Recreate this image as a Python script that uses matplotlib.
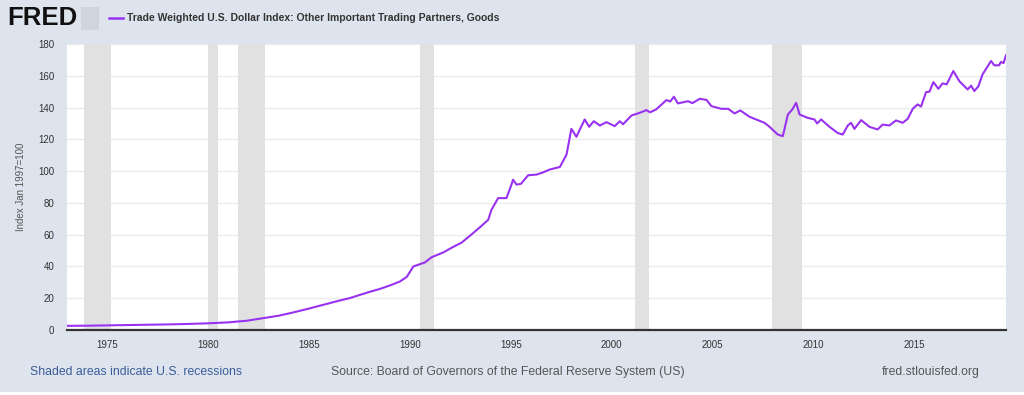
import matplotlib.pyplot as plt
from matplotlib.patches import Rectangle

# decimal year / index value
dates = [1973.0, 1974.0, 1975.0, 1976.0, 1977.0, 1978.0, 1979.0, 1980.0, 1981.0, 1981.9,
         1982.6, 1983.5, 1984.2, 1985.0, 1985.9, 1986.5, 1987.0, 1987.5, 1988.0, 1988.5,
         1989.0, 1989.5, 1989.84, 1990.17, 1990.74, 1991.07, 1991.65, 1992.1, 1992.56, 1993.13,
         1993.5, 1993.88, 1994.04, 1994.37, 1994.78, 1995.0, 1995.11, 1995.28, 1995.5, 1995.86,
         1996.27, 1996.6, 1996.93, 1997.43, 1997.76, 1998.0, 1998.25, 1998.42, 1998.66, 1998.88,
         1999.11, 1999.41, 1999.74, 2000.15, 2000.4, 2000.56, 2000.98, 2001.39, 2001.72, 2001.9,
         2002.2, 2002.71, 2002.9, 2003.08, 2003.28, 2003.78, 2004.0, 2004.36, 2004.7, 2004.94,
         2005.43, 2005.77, 2006.09, 2006.37, 2006.83, 2007.16, 2007.57, 2007.82, 2008.23, 2008.48,
         2008.73, 2008.95, 2009.14, 2009.31, 2009.72, 2010.05, 2010.18, 2010.38, 2010.79, 2011.2,
         2011.45, 2011.7, 2011.86, 2012.03, 2012.36, 2012.77, 2013.18, 2013.43, 2013.76, 2014.09,
         2014.42, 2014.67, 2014.92, 2015.16, 2015.33, 2015.58, 2015.75, 2015.94, 2016.19, 2016.4,
         2016.6, 2016.93, 2017.23, 2017.64, 2017.81, 2017.97, 2018.17, 2018.38, 2018.8, 2018.96,
         2019.2, 2019.29, 2019.42, 2019.54]
values = [2.6, 2.7, 2.9, 3.1, 3.3, 3.5, 3.8, 4.2, 4.8, 5.8,
          7.2, 9.0, 11.0, 13.5, 16.5, 18.5, 20.0, 22.0, 24.0, 25.8,
          28.0, 30.5, 33.4, 40.0, 42.5, 45.8, 48.8, 52.0, 55.0, 61.0,
          65.0, 69.4, 75.7, 83.0, 83.0, 90.4, 94.6, 91.5, 92.0, 97.4,
          97.8, 99.2, 101.0, 102.6, 110.4, 126.6, 121.6, 126.2, 132.5, 127.9,
          131.4, 128.7, 130.8, 128.3, 131.4, 129.5, 135.0, 136.7, 138.4, 137.0,
          138.8, 144.7, 143.8, 146.8, 142.6, 144.0, 142.8, 145.5, 144.8, 140.9,
          139.2, 139.2, 136.3, 138.2, 134.2, 132.5, 130.4, 127.9, 123.0, 122.0,
          135.6, 138.8, 143.0, 135.6, 133.5, 132.5, 130.0, 132.5, 127.9, 124.0,
          123.0, 128.7, 130.4, 126.6, 132.1, 127.9, 126.2, 129.3, 128.7, 131.9,
          130.4, 132.9, 139.2, 142.0, 140.6, 149.7, 150.0, 156.0, 151.8, 155.2,
          154.6, 163.0, 156.6, 151.4, 153.8, 150.4, 153.3, 160.9, 169.3, 166.6,
          166.6, 168.7, 168.0, 172.9]

recession_start = [1973.83, 1980.0, 1981.5, 1990.5, 2001.17, 2007.92]
recession_end = [1975.17, 1980.5, 1982.83, 1991.17, 2001.83, 2009.42]

x_ticks = [1975, 1980, 1985, 1990, 1995, 2000, 2005, 2010, 2015]
y_ticks = [0, 20, 40, 60, 80, 100, 120, 140, 160, 180]

bg = '#dde4ed'
purple = '#9932f0'

fig = plt.figure(figsize=(10.24, 3.95), dpi=100, facecolor=bg)
ax = fig.add_axes([0.0654, 0.1646, 0.9170, 0.7240])
ax.set_facecolor('white')

for s, e in zip(recession_start, recession_end):
    ax.axvspan(s, e, color='#e1e1e1', lw=0, zorder=1)

ax.plot(dates, values, color=purple, lw=1.5, zorder=3)

ax.set_xlim(1973.0, 2019.54)
ax.set_ylim(0, 180)
ax.set_xticks(x_ticks)
ax.set_yticks(y_ticks)
ax.grid(axis='y', color='#ebebeb', lw=1, zorder=0)
ax.set_axisbelow(True)

for side in ['top', 'right', 'left']:
    ax.spines[side].set_visible(False)
ax.spines['bottom'].set_color('#333333')
ax.spines['bottom'].set_linewidth(1.6)
ax.spines['bottom'].set_zorder(4)

ax.tick_params(axis='both', length=0, labelsize=7, labelcolor='#333333')
ax.tick_params(axis='x', pad=7)
ax.tick_params(axis='y', pad=9)
for lbl in ax.get_xticklabels() + ax.get_yticklabels():
    lbl.set_family(['Liberation Sans Narrow', 'Liberation Sans'])

ax.set_ylabel('Index Jan 1997=100', fontsize=7, color='#555555',
              family='Liberation Sans', labelpad=9)

# header
fig.text(0.007, 0.955, 'FRED', fontsize=18.5, fontweight='bold', color='#111111',
         family='Liberation Sans', va='center', ha='left')
fig.patches.append(Rectangle((0.079, 0.925), 0.018, 0.058, transform=fig.transFigure,
                             facecolor='#cfd5dc', edgecolor='none'))
fig.lines.append(plt.Line2D([0.106, 0.120], [0.955, 0.955], transform=fig.transFigure,
                            color=purple, lw=1.8))
fig.text(0.124, 0.955, 'Trade Weighted U.S. Dollar Index: Other Important Trading Partners, Goods',
         fontsize=7.5, fontweight='bold', color='#333333', family='Liberation Sans',
         va='center', ha='left')

# footer
fig.text(0.029, 0.058, 'Shaded areas indicate U.S. recessions', fontsize=8.8,
         color='#3a5c99', family='Liberation Sans', va='center')
fig.text(0.323, 0.058, 'Source: Board of Governors of the Federal Reserve System (US)',
         fontsize=8.8, color='#555555', family='Liberation Sans', va='center')
fig.text(0.957, 0.058, 'fred.stlouisfed.org', fontsize=8.8, color='#555555',
         family='Liberation Sans', va='center', ha='right')

fig.patches.append(Rectangle((0, 0), 1, 0.008, transform=fig.transFigure,
                             facecolor='white', edgecolor='none'))

fig.savefig('out.png', dpi=100, facecolor=bg)
